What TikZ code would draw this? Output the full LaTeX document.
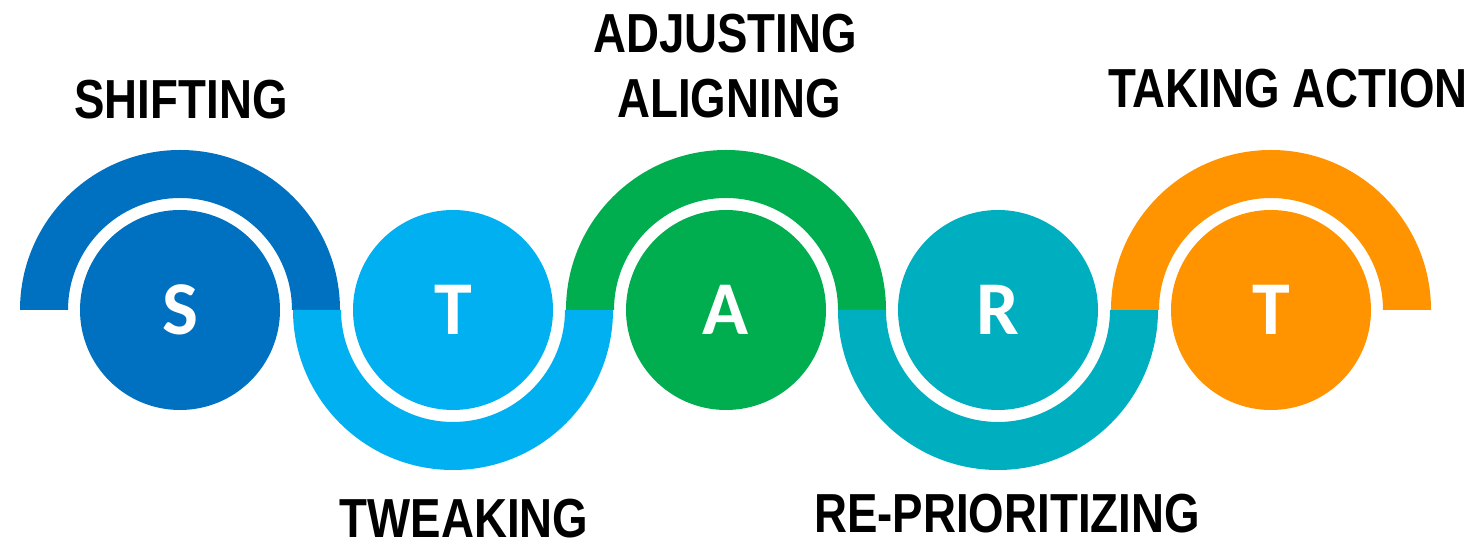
\documentclass[tikz,border=0pt]{standalone}
\usepackage{fontspec}
\setmainfont{Liberation Sans}
\newfontfamily\wordfont[FakeStretch=0.83]{Liberation Sans}
\newfontfamily\letterfont{Carlito}
\definecolor{sblue}{HTML}{0070C0}
\definecolor{tblue}{HTML}{00B0F0}
\definecolor{agreen}{HTML}{00AE4F}
\definecolor{rteal}{HTML}{00AFBF}
\definecolor{torange}{HTML}{FF9300}

\tikzset{
  letter/.style={circle, inner sep=0pt, minimum size=200pt, text=white,
    font=\letterfont\bfseries\fontsize{76}{80}\selectfont},
  word/.style={anchor=base, inner sep=0pt,
    font=\wordfont\bfseries\fontsize{55}{60}\selectfont},
}

\begin{document}
\begin{tikzpicture}[x=1pt, y=1pt]
      \useasboundingbox (0,0) rectangle (1478,545);

      \node[letter, fill=sblue] (s) at (180, 235) {S};
      \node[letter, fill=tblue] (t) at (453, 235) {T};
      \node[letter, fill=agreen] (a) at (726, 235) {A};
      \node[letter, fill=rteal] (r) at (998, 235) {R};
      \node[letter, fill=torange] (tt) at (1271, 235) {T};

      % half rings, up and down in turn
      \fill[sblue] (s.center) ++(160,0) arc[start angle=0, end angle=180, radius=160] -- ++(48,0) arc[start angle=180, end angle=0, radius=112] -- cycle;
      \fill[tblue] (t.center) ++(160,0) arc[start angle=0, end angle=-180, radius=160] -- ++(48,0) arc[start angle=-180, end angle=0, radius=112] -- cycle;
      \fill[agreen] (a.center) ++(160,0) arc[start angle=0, end angle=180, radius=160] -- ++(48,0) arc[start angle=180, end angle=0, radius=112] -- cycle;
      \fill[rteal] (r.center) ++(160,0) arc[start angle=0, end angle=-180, radius=160] -- ++(48,0) arc[start angle=-180, end angle=0, radius=112] -- cycle;
      \fill[torange] (tt.center) ++(160,0) arc[start angle=0, end angle=180, radius=160] -- ++(48,0) arc[start angle=180, end angle=0, radius=112] -- cycle;

      \node[word] (shifting) at (181, 426) {SHIFTING};
      \node[word] (tweaking) at (464, 7) {TWEAKING};
      \node[word] (adjusting) at (725, 492) {ADJUSTING};
      \node[word] (aligning) at (729, 427) {ALIGNING};
      \node[word] (reprio) at (1007, 12) {RE-PRIORITIZING};
      \node[word] (action) at (1288, 437) {TAKING ACTION};
\end{tikzpicture}
\end{document}
